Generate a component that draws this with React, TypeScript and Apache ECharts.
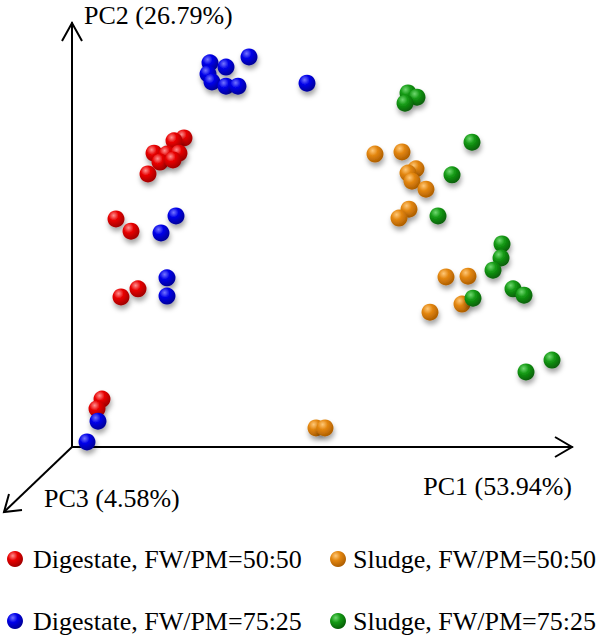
import React, { useEffect, useRef } from "react";
import * as echarts from "echarts";

// Axis titles
const axisTitles = ["PC1 (53.94%)", "PC2 (26.79%)", "PC3 (4.58%)"];

// Group names
const groupNames = [
  "Digestate, FW/PM=50:50",
  "Digestate, FW/PM=75:25",
  "Sludge, FW/PM=50:50",
  "Sludge, FW/PM=75:25",
];

// Scores: [PC1, PC2] (relative units, 0-100 along each drawn axis)
const digestate5050: number[][] = [
  [22.4, 72.9], [20.4, 72.2], [16.4, 69.3], [19.0, 69.1], [21.4, 69.3],
  [17.6, 67.2], [20.2, 67.7], [15.2, 64.4], [8.8, 53.8], [11.8, 50.9],
  [13.2, 37.3], [9.8, 35.4], [6.0, 11.3], [5.0, 9.0],
];
const digestate7525: number[][] = [
  [27.6, 90.6], [30.8, 89.6], [35.4, 92.0], [27.2, 88.0], [28.0, 86.1],
  [30.8, 85.1], [33.2, 85.1], [47.0, 85.8], [20.8, 54.5], [17.8, 50.5],
  [19.0, 39.9], [19.0, 35.6], [5.2, 6.1], [3.0, 1.2],
];
const sludge5050: number[][] = [
  [60.6, 69.1], [66.0, 69.6], [68.8, 65.6], [67.2, 64.6], [68.0, 62.7],
  [70.8, 60.8], [67.4, 56.1], [65.4, 54.0], [74.8, 40.1], [79.2, 40.3],
  [78.0, 33.7], [71.6, 31.8], [48.8, 4.5], [50.6, 4.5],
];
const sludge7525: number[][] = [
  [67.2, 83.5], [69.0, 82.5], [66.6, 81.1], [80.0, 71.9], [76.0, 64.2],
  [73.2, 54.5], [86.0, 47.9], [85.8, 44.6], [84.2, 41.7], [88.2, 37.3],
  [90.4, 35.8], [80.2, 35.1], [90.8, 17.7], [96.0, 20.5],
];

const groupData = [digestate5050, digestate7525, sludge5050, sludge7525];

// sphere shading: [highlight, base, shadow]
const groupColors = [
  ["#ff9090", "#e80000", "#9a0000"],
  ["#7474ff", "#0000e8", "#000090"],
  ["#ffc878", "#e3860f", "#a85a00"],
  ["#70d870", "#149a14", "#055a05"],
];

const FONT = '"Liberation Serif", "Times New Roman", serif';

function sphere(c: string[]) {
  return new echarts.graphic.RadialGradient(0.36, 0.3, 0.75, [
    { offset: 0, color: c[0] },
    { offset: 0.4, color: c[1] },
    { offset: 1, color: c[2] },
  ]);
}

export default function App() {
  const ref = useRef<HTMLDivElement>(null);
  useEffect(() => {
    document.body.style.margin = "0";
    const chart = echarts.init(ref.current!, null, { renderer: "svg" });

    const ox = 72, oy = 447, xEnd = 572, yEnd = 23;
    const pc3Tip = [4, 512];

    const line = (pts: number[][]) => ({
      type: "polyline",
      silent: true,
      shape: { points: pts },
      style: { stroke: "#000", lineWidth: 2, fill: null, lineJoin: "miter" },
    });

    // legend slots: [left, top]
    const legendSlots = [[7, 544], [7, 606], [330, 544], [330, 606]];

    chart.setOption({
      animation: false,
      backgroundColor: "#fff",
      grid: { left: ox, right: 598 - xEnd, top: yEnd, bottom: 641 - oy },
      xAxis: {
        type: "value", min: 0, max: 100,
        axisLine: { show: true, lineStyle: { color: "#000", width: 2 } },
        axisTick: { show: false }, axisLabel: { show: false }, splitLine: { show: false },
      },
      yAxis: {
        type: "value", min: 0, max: 100,
        axisLine: { show: true, lineStyle: { color: "#000", width: 2 } },
        axisTick: { show: false }, axisLabel: { show: false }, splitLine: { show: false },
      },
      legend: groupNames.map((n, i) => ({
        orient: "horizontal",
        left: legendSlots[i][0],
        top: legendSlots[i][1],
        itemWidth: 16,
        itemHeight: 16,
        padding: 0,
        icon: "circle",
        data: [n],
        selectedMode: false,
        textStyle: {
          fontFamily: FONT, fontSize: 26, color: "#000", lineHeight: 30,
          padding: [0, 0, 0, i < 2 ? 5 : 2],
        },
      })),
      series: groupData.map((d, i) => ({
        name: groupNames[i],
        type: "scatter",
        symbol: "circle",
        symbolSize: 17,
        data: d,
        itemStyle: {
          color: sphere(groupColors[i]),
          opacity: 1,
          shadowBlur: 5,
          shadowColor: "rgba(0,0,0,0.35)",
          shadowOffsetX: 1,
          shadowOffsetY: 4,
        },
      })),
      graphic: [
        // PC1 arrowhead
        line([[xEnd - 17, oy - 10], [xEnd, oy], [xEnd - 17, oy + 10]]),
        // PC2 arrowhead
        line([[ox - 10, yEnd + 18], [ox, yEnd], [ox + 10, yEnd + 18]]),
        // PC3 axis + arrowhead
        line([[ox, oy], pc3Tip]),
        line([[pc3Tip[0] + 5, pc3Tip[1] - 18], pc3Tip, [pc3Tip[0] + 18, pc3Tip[1] - 2]]),
        {
          type: "text", left: 84, top: 2, silent: true,
          style: { text: axisTitles[1], fontFamily: FONT, fontSize: 26, fill: "#000" },
        },
        {
          type: "text", right: 598 - 572, top: 473, silent: true,
          style: { text: axisTitles[0], fontFamily: FONT, fontSize: 26, fill: "#000" },
        },
        {
          type: "text", left: 44, top: 485, silent: true,
          style: { text: axisTitles[2], fontFamily: FONT, fontSize: 26, fill: "#000" },
        },
      ],
    });
    return () => chart.dispose();
  }, []);
  return <div ref={ref} style={{ width: 598, height: 641 }} />;
}
